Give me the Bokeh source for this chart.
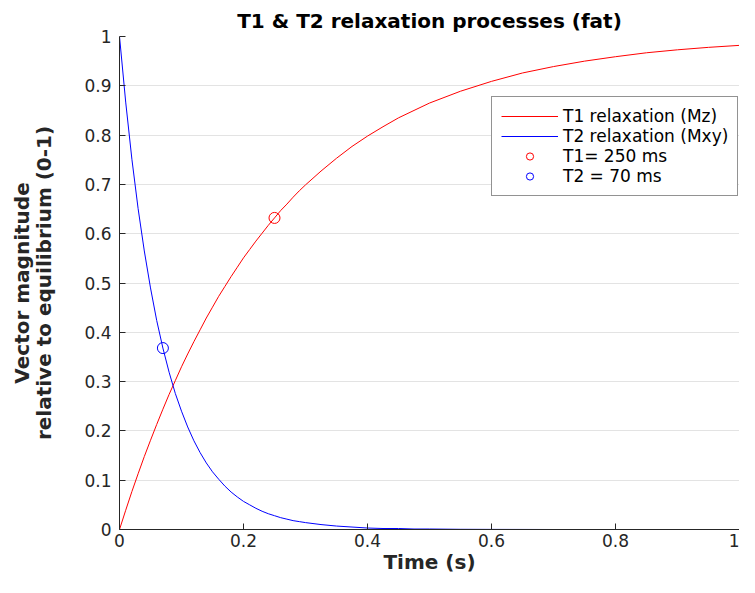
from bokeh.plotting import figure
from bokeh.models import Legend, LegendItem, Range1d, FixedTicker
from bokeh.embed import file_html
from bokeh.resources import INLINE

# ---- data ----
time_s = [0.00, 0.01, 0.02, 0.03, 0.04, 0.05, 0.06, 0.07, 0.08, 0.09,
          0.10, 0.11, 0.12, 0.13, 0.14, 0.15, 0.16, 0.17, 0.18, 0.19,
          0.20, 0.21, 0.22, 0.23, 0.24, 0.25, 0.26, 0.27, 0.28, 0.29,
          0.30, 0.325, 0.35, 0.375, 0.40, 0.425, 0.45, 0.475, 0.50,
          0.55, 0.60, 0.65, 0.70, 0.75, 0.80, 0.85, 0.90, 0.95, 1.00]
t1_mz = [0.000, 0.039, 0.077, 0.113, 0.148, 0.181, 0.213, 0.244, 0.274, 0.302,
         0.330, 0.356, 0.381, 0.405, 0.429, 0.451, 0.473, 0.493, 0.513, 0.532,
         0.551, 0.568, 0.585, 0.601, 0.617, 0.632, 0.647, 0.660, 0.674, 0.687,
         0.699, 0.727, 0.753, 0.777, 0.798, 0.817, 0.835, 0.850, 0.865,
         0.889, 0.909, 0.926, 0.939, 0.950, 0.959, 0.967, 0.973, 0.978, 0.982]
t2_mxy = [1.000, 0.867, 0.751, 0.651, 0.565, 0.490, 0.424, 0.368, 0.319, 0.276,
          0.240, 0.208, 0.180, 0.156, 0.135, 0.117, 0.102, 0.088, 0.076, 0.066,
          0.057, 0.050, 0.043, 0.037, 0.032, 0.028, 0.024, 0.021, 0.018, 0.016,
          0.014, 0.010, 0.007, 0.005, 0.003, 0.002, 0.002, 0.001, 0.001,
          0.0004, 0.0002, 0.0001, 0.0, 0.0, 0.0, 0.0, 0.0, 0.0, 0.0]

t1_marker_time = [0.25]
t1_marker_value = [0.632]
t2_marker_time = [0.07]
t2_marker_value = [0.368]

x_ticks = [0, 0.2, 0.4, 0.6, 0.8, 1]
x_tick_labels = ["0", "0.2", "0.4", "0.6", "0.8", "1"]
y_ticks = [0, 0.1, 0.2, 0.3, 0.4, 0.5, 0.6, 0.7, 0.8, 0.9, 1]
y_tick_labels = ["0", "0.1", "0.2", "0.3", "0.4", "0.5", "0.6", "0.7", "0.8", "0.9", "1"]

FONT = "DejaVu Sans"
AX = "#262626"

p = figure(width=739, height=577,
           x_range=Range1d(0, 1), y_range=Range1d(0, 1),
           output_backend="svg", toolbar_location=None,
           title="T1 & T2 relaxation processes (fat)",
           min_border_left=119, min_border_right=0,
           min_border_top=36, min_border_bottom=48)

p.title.text_font = FONT
p.title.text_font_size = "20px"
p.title.text_font_style = "bold"
p.title.text_color = "#000000"
p.title.align = "center"
p.title.standoff = 8

p.outline_line_color = None
p.background_fill_color = "white"
p.border_fill_color = "white"

p.xgrid.grid_line_color = None
p.ygrid.grid_line_color = "#e3e3e3"
p.ygrid.grid_line_width = 1

p.xaxis.ticker = FixedTicker(ticks=x_ticks)
p.yaxis.ticker = FixedTicker(ticks=y_ticks)
p.xaxis.major_label_overrides = dict(zip(x_ticks, x_tick_labels))
p.yaxis.major_label_overrides = dict(zip(y_ticks, y_tick_labels))

for ax in (p.xaxis, p.yaxis):
    ax.axis_line_color = AX
    ax.axis_line_width = 1
    ax.major_tick_line_color = AX
    ax.major_tick_in = 6
    ax.major_tick_out = 0
    ax.minor_tick_line_color = None
    ax.major_label_text_font = FONT
    ax.major_label_text_font_size = "17px"
    ax.major_label_text_color = AX
    ax.axis_label_text_font = FONT
    ax.axis_label_text_font_size = "20px"
    ax.axis_label_text_font_style = "bold"
    ax.axis_label_text_color = AX

p.xaxis.axis_label = "Time (s)"
p.xaxis.major_label_standoff = 4
p.xaxis.axis_label_standoff = 0
p.yaxis.axis_label = "Vector magnitude\nrelative to equilibrium (0-1)"
p.yaxis.axis_label_text_line_height = 0.95
p.yaxis.major_label_standoff = 8
p.yaxis.axis_label_standoff = 25

r1 = p.line(time_s, t1_mz, line_color="#ff0000", line_width=1)
r2 = p.line(time_s, t2_mxy, line_color="#0000ff", line_width=1)
m1 = p.scatter(t1_marker_time, t1_marker_value, marker="circle", size=11,
               fill_color=None, line_color="#ff0000", line_width=1)
m2 = p.scatter(t2_marker_time, t2_marker_value, marker="circle", size=11,
               fill_color=None, line_color="#0000ff", line_width=1)

legend = Legend(items=[
    LegendItem(label="T1 relaxation (Mz)", renderers=[r1]),
    LegendItem(label="T2 relaxation (Mxy)", renderers=[r2]),
    LegendItem(label="T1= 250 ms", renderers=[m1]),
    LegendItem(label="T2 = 70 ms", renderers=[m2]),
], location=(372, 333))
legend.label_text_font = FONT
legend.label_text_font_size = "17px"
legend.label_text_color = "#000000"
legend.border_line_color = AX
legend.border_line_width = 1
legend.background_fill_color = "white"
legend.background_fill_alpha = 1
legend.padding = 9
legend.margin = 0
legend.spacing = 0
legend.glyph_width = 57
legend.glyph_height = 18
legend.label_height = 18
legend.label_standoff = 5
p.add_layout(legend, "center")

open("out.html", "w").write(file_html(p, INLINE))
